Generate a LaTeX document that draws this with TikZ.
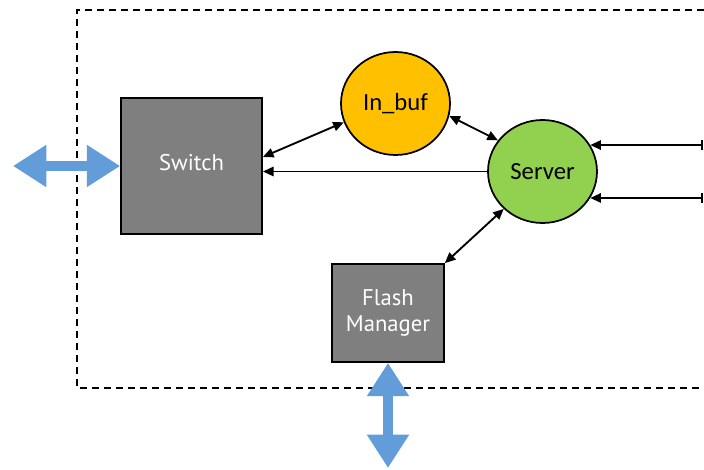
\documentclass[tikz,border=0pt]{standalone}
\usepackage{fontspec}
\setmainfont{Carlito}
\newfontfamily\boxfont{PT Sans}
\usetikzlibrary{arrows.meta,shapes.geometric}

\definecolor{boxgray}{RGB}{127,127,127}
\definecolor{bufyellow}{RGB}{255,192,0}
\definecolor{srvgreen}{RGB}{146,208,80}
\definecolor{linkblue}{RGB}{98,157,217}

\tikzset{
  unit/.style={draw=black,line width=1.3pt,fill=boxgray,inner sep=0pt,text=white,
    font=\boxfont\fontsize{17}{19}\selectfont,align=center},
  proc/.style={ellipse,draw=black,line width=1.3pt,inner sep=0pt,
    font=\fontsize{18.5}{20}\selectfont},
  link/.style={line width=1.4pt,{Triangle[length=8pt,width=7pt]}-{Triangle[length=8pt,width=7pt]}},
  feed/.style={line width=1.4pt,-{Triangle[length=8pt,width=7pt]}},
  bus/.style={draw=linkblue,line width=7.5pt,
    {Triangle[length=25pt,width=30pt]}-{Triangle[length=25pt,width=30pt]}}
}

\begin{document}
\begin{tikzpicture}[x=0.75pt,y=0.75pt,yscale=-1]
\useasboundingbox (0,0) rectangle (704,470);

%Shape: Dashed frame (open on the right)
\draw [line width=1.2pt,dash pattern=on 5.5pt off 3.5pt] (704,10) -- (77,10) -- (77,388) -- (704,388) ;

%Shape: Rectangle
\node [unit,minimum width=105.75pt,minimum height=102pt,text depth=6pt] (switch) at (191.5,166) {Switch};
%Shape: Rectangle
\node [unit,minimum width=84pt,minimum height=73.5pt] (flash) at (388,313) {Flash\\Manager};
%Shape: Ellipse
\node [proc,fill=bufyellow,minimum width=81.75pt,minimum height=77.25pt] (inbuf) at (395.5,103.5) {In\_buf};
%Shape: Ellipse
\node [proc,fill=srvgreen,minimum width=81.75pt,minimum height=77.25pt] (server) at (542.5,171.5) {Server};

%free ends
\coordinate (ext) at (13,166);
\coordinate (disk) at (388,468);
\coordinate (edge) at (703,0);

%Straight Lines
\draw [link] ([yshift=-6.75pt]switch.east) -- (inbuf.200) ;
\draw [feed] (server.west) -- (server.west -| switch.east) ;
\draw [link] (inbuf.-13) -- (server.145) ;
\draw [link] (flash.north east) -- (server.224) ;
\draw [line width=1.4pt,{Triangle[length=8pt,width=7pt]}-{Bar[width=8pt]}] (server.29) -- (server.29 -| edge) ;
\draw [line width=1.4pt,{Triangle[length=8pt,width=7pt]}-{Bar[width=8pt]}] (server.-29) -- (server.-29 -| edge) ;

%Block arrows
\draw [bus] (ext) -- (switch.west) ;
\draw [bus] (flash.south) -- (disk) ;

\end{tikzpicture}
\end{document}
